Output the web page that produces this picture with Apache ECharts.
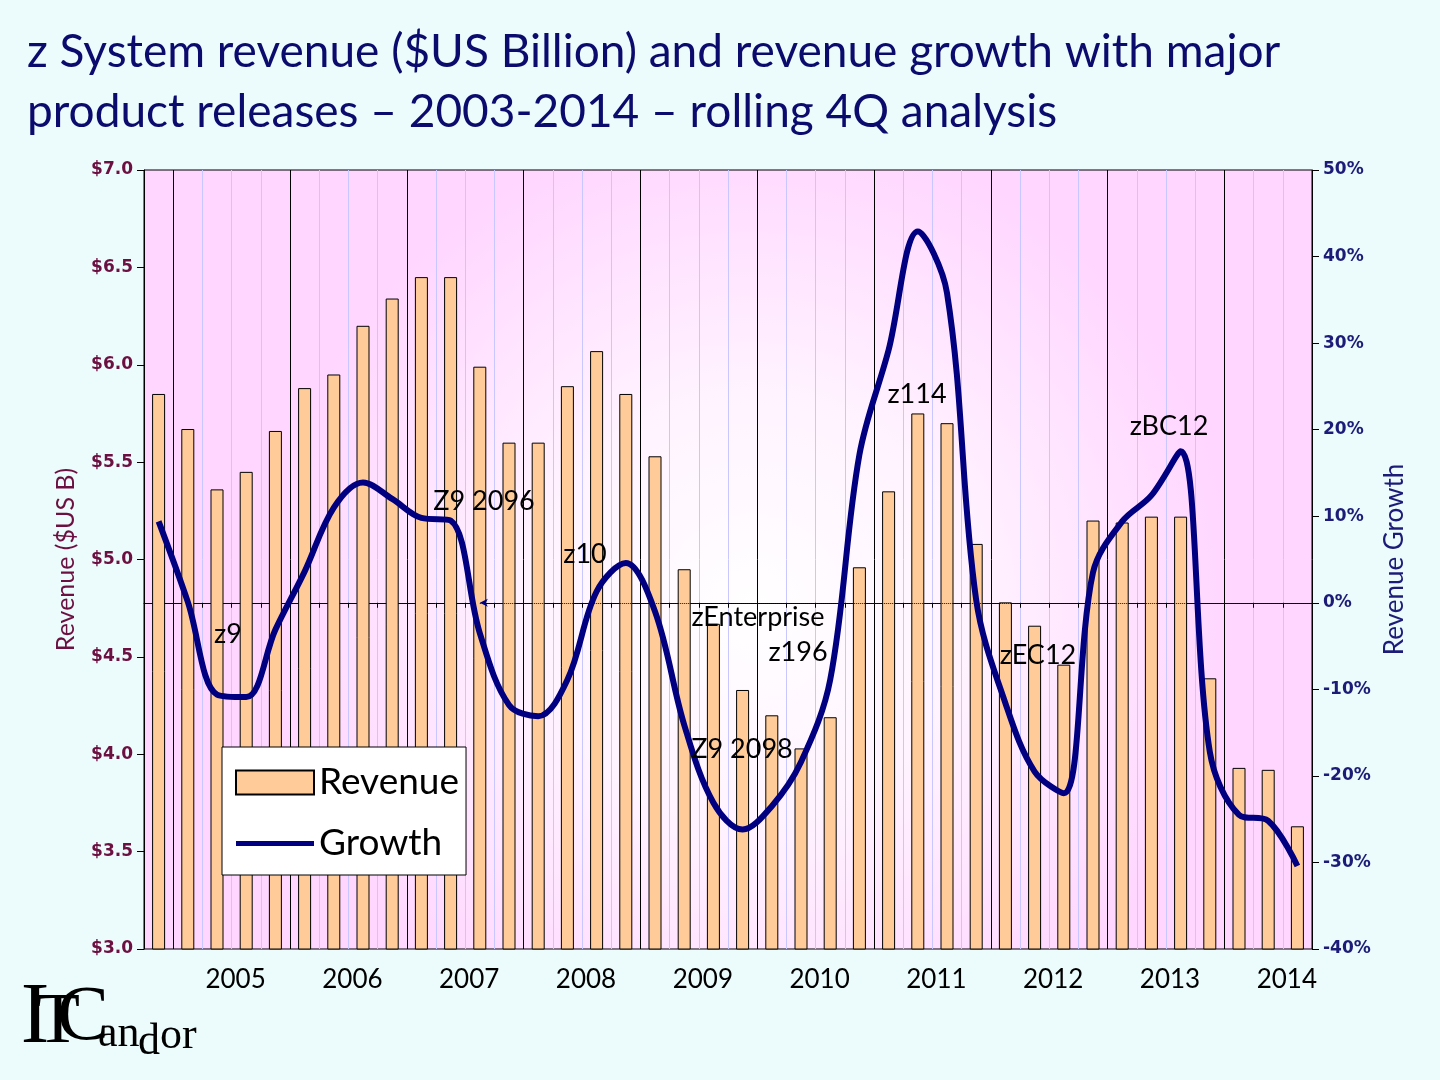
<!DOCTYPE html>
<html><head><meta charset="utf-8">
<script src="https://cdn.jsdelivr.net/npm/echarts@6/dist/echarts.min.js"></script>
<style>html,body{margin:0;padding:0;background:#ecfbfb}#c{width:1440px;height:1080px}</style>
</head><body><div id="c"></div>
<script>
// Quarters: 2004 Q4 .. 2014 Q3 (rolling 4Q)
const quarters = [
 '2004 Q4',
 '2005 Q1','2005 Q2','2005 Q3','2005 Q4',
 '2006 Q1','2006 Q2','2006 Q3','2006 Q4',
 '2007 Q1','2007 Q2','2007 Q3','2007 Q4',
 '2008 Q1','2008 Q2','2008 Q3','2008 Q4',
 '2009 Q1','2009 Q2','2009 Q3','2009 Q4',
 '2010 Q1','2010 Q2','2010 Q3','2010 Q4',
 '2011 Q1','2011 Q2','2011 Q3','2011 Q4',
 '2012 Q1','2012 Q2','2012 Q3','2012 Q4',
 '2013 Q1','2013 Q2','2013 Q3','2013 Q4',
 '2014 Q1','2014 Q2','2014 Q3'
];
const revenue = [
 5.85,
 5.67,5.36,5.45,5.66,
 5.88,5.95,6.20,6.34,
 6.45,6.45,5.99,5.60,
 5.60,5.89,6.07,5.85,
 5.53,4.95,4.67,4.33,
 4.20,4.03,4.19,4.96,
 5.35,5.75,5.70,5.08,
 4.78,4.66,4.46,5.20,
 5.19,5.22,5.22,4.39,
 3.93,3.92,3.63
];
const growth = [
 9.4,
 0.1,-10.6,-10.9,-3.1,
 3.6,11.0,13.9,12.0,
 9.8,9.5,-3.5,-11.8,
 -13.1,-8.9,1.3,4.6,
 -1.0,-14.1,-23.1,-26.2,
 -23.5,-18.4,-8.9,17.1,
 29.2,42.9,35.8,0.3,
 -11.6,-19.5,-22.0,3.5,
 9.4,12.4,17.5,-17.2,
 -24.5,-25.2,-30.4
];
const yearLabels = ['2005','2006','2007','2008','2009','2010','2011','2012','2013','2014'];
const revenueTicks = {min:3, max:7, interval:0.5};
const growthTicks = {min:-40, max:50, interval:10};
const releases = [
 {name:'z9', x:228, y:634},
 {name:'Z9 2096', x:484, y:501},
 {name:'z10', x:585, y:554},
 {name:'zEnterprise', x:758, y:617},
 {name:'z196', x:798, y:652},
 {name:'Z9 2098', x:742, y:749},
 {name:'z114', x:917, y:394},
 {name:'zEC12', x:1038, y:655},
 {name:'zBC12', x:1169, y:426}
];

// half-quarter steps axis (81 points on boundaries / centres) for year labels and gridlines
const halfSteps = [];
for (let j = 0; j <= 80; j++) {
  halfSteps.push(j % 8 === 6 ? yearLabels[(j - 6) / 8] : '');
}

const chart = echarts.init(document.getElementById('c'));
const maroon = '#6b1040', navy = '#1c1c78';
const graphics = releases.map(r => ({
  type:'text', x:r.x, y:r.y, z:100,
  style:{text:r.name, fill:'#000', fontFamily:'Lato', fontSize:27, align:'center', verticalAlign:'middle'}
}));
const logoFont = 'Liberation Serif';
function logoText(t, x, y, fs, align) {
  return {type:'text', x:x, y:y, z:100, style:{text:t, fill:'#000', fontFamily:logoFont, fontSize:fs, align:align, verticalAlign:'middle'}};
}
graphics.push(
  logoText('I', 35, 1019, 86, 'center'),
  logoText('T', 58, 1023, 72, 'center'),
  logoText('C', 83, 1019, 78, 'center'),
  logoText('an', 98, 1034, 44, 'left'),
  logoText('d', 138, 1042, 44, 'left'),
  logoText('or', 160, 1036, 44, 'left')
);

const lineIcon = 'path://M0,0L0.01,0Z M0,9.5L78,9.5L78,14.5L0,14.5Z M0,24L0.01,24Z';

chart.setOption({
  backgroundColor:'#ecfbfb',
  animation:false,
  title:{
    text:'z System revenue ($US Billion) and revenue growth with major\nproduct releases \u2013 2003-2014 \u2013 rolling 4Q analysis',
    left:22, top:17,
    textStyle:{fontFamily:'Lato', fontSize:46, fontWeight:'normal', color:'#0b0b6e', lineHeight:60}
  },
  grid:{
    left:144, right:128, top:170, bottom:131, show:true,
    borderColor:'#000', borderWidth:1,
    backgroundColor:new echarts.graphic.RadialGradient(0.52, 0.56, 0.62, [
      {offset:0, color:'#ffffff'},
      {offset:0.45, color:'#fff3ff'},
      {offset:1, color:'#ffd6ff'}
    ])
  },
  legend:{
    data:[
      {name:'Revenue', icon:'rect'},
      {name:'Growth', icon:lineIcon}
    ],
    orient:'vertical', left:222, top:747,
    backgroundColor:'#fff', borderColor:'#000', borderWidth:1,
    padding:[17,7,13,13], itemWidth:78, itemHeight:24, itemGap:24,
    textStyle:{fontFamily:'Lato', fontSize:37, color:'#000'}
  },
  xAxis:[
    {
      type:'category', data:quarters, boundaryGap:true, position:'bottom',
      axisLine:{show:true, lineStyle:{color:'#000', width:1}},
      axisTick:{show:true, interval:0, length:5, lineStyle:{color:'#000'}},
      axisLabel:{show:false}, splitLine:{show:false}
    },
    {
      type:'category', data:halfSteps, boundaryGap:false, position:'bottom',
      axisLine:{show:false}, axisTick:{show:false},
      axisLabel:{show:true, interval:0, fontFamily:'Lato', fontSize:26, color:'#000', margin:18, padding:[0,0,0,8]},
      splitLine:{show:true, interval:function(j){return j % 8 === 2;}, lineStyle:{color:'#000', width:1}}
    },
    {
      type:'category', data:halfSteps, boundaryGap:false, position:'top',
      axisLine:{show:false}, axisTick:{show:false}, axisLabel:{show:false},
      splitLine:{show:true, interval:function(j){return j % 2 === 0 && j % 8 !== 2 && j > 0 && j < 80;}, lineStyle:{color:'#c8c8ff', width:1}}
    }
  ],
  yAxis:[
    {
      type:'value', min:revenueTicks.min, max:revenueTicks.max, interval:revenueTicks.interval,
      name:'Revenue ($US B)', nameLocation:'middle', nameGap:66, nameRotate:90,
      nameTextStyle:{fontFamily:'Lato', fontSize:25, color:maroon},
      axisLine:{show:true, lineStyle:{color:'#000'}},
      axisTick:{show:true, length:7, lineStyle:{color:'#000'}},
      axisLabel:{fontFamily:'DejaVu Sans', fontSize:17, fontWeight:'bold', color:maroon, margin:11,
        formatter:function(v){return '$' + v.toFixed(1);}},
      splitLine:{show:false}
    },
    {
      type:'value', min:growthTicks.min, max:growthTicks.max, interval:growthTicks.interval,
      position:'right',
      name:'Revenue Growth', nameLocation:'middle', nameGap:65, nameRotate:90,
      nameTextStyle:{fontFamily:'Lato', fontSize:26, color:navy},
      axisLine:{show:true, lineStyle:{color:'#000'}},
      axisTick:{show:true, length:7, lineStyle:{color:'#000'}},
      axisLabel:{fontFamily:'DejaVu Sans', fontSize:17, fontWeight:'bold', color:navy, margin:11,
        formatter:function(v){return v + '%';}},
      splitLine:{show:false}
    }
  ],
  series:[
    {
      name:'Revenue', type:'bar', xAxisIndex:0, yAxisIndex:0, data:revenue,
      barWidth:13, z:2,
      itemStyle:{color:'#ffcc99', borderColor:'#000', borderWidth:1}
    },
    {
      name:'Growth', type:'line', xAxisIndex:0, yAxisIndex:1, data:growth,
      smooth:0.35, showSymbol:false, symbol:'none', z:4,
      lineStyle:{color:'#000080', width:6}, itemStyle:{color:'#000080'}
    },
    {
      name:'zero', type:'line', xAxisIndex:1, yAxisIndex:1, data:[], z:5,
      markLine:{
        silent:true, symbol:['arrow','none'], symbolSize:[6,8],
        label:{show:false},
        lineStyle:{color:'#000080', type:'dotted', width:1},
        data:[[{coord:[23, 0]}, {coord:[80, 0]}]]
      }
    }
  ],
  graphic:graphics
});
</script></body></html>
